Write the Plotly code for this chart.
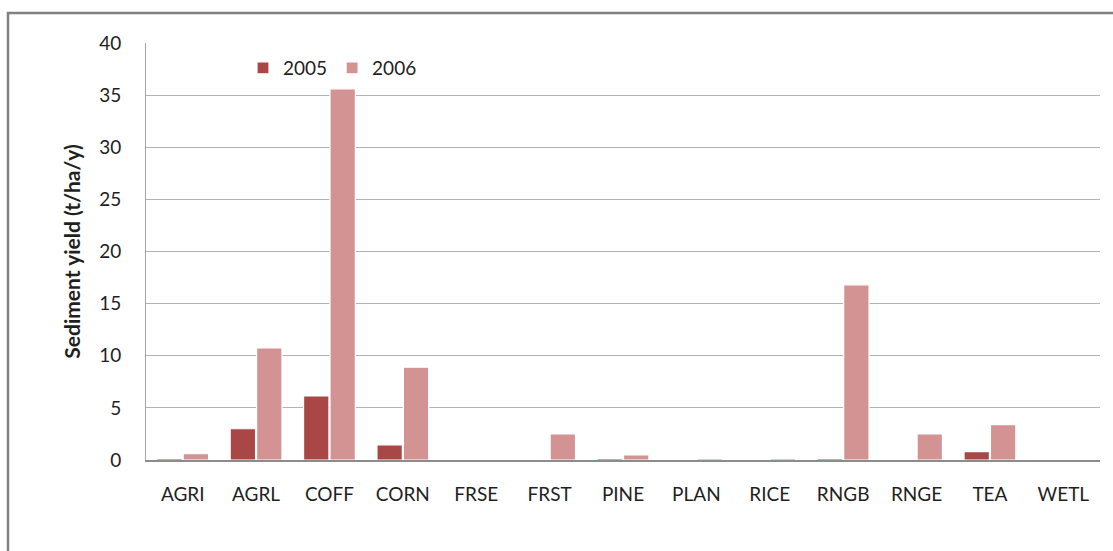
import plotly.graph_objects as go

categories = ["AGRI", "AGRL", "COFF", "CORN", "FRSE", "FRST", "PINE",
              "PLAN", "RICE", "RNGB", "RNGE", "TEA", "WETL"]
yield_2005 = [0.15, 3.0, 6.15, 1.45, 0.0, 0.0, 0.15, 0.0, 0.0, 0.15, 0.0, 0.8, 0.0]
yield_2006 = [0.6, 10.75, 35.6, 8.9, 0.0, 2.5, 0.5, 0.15, 0.15, 16.8, 2.5, 3.4, 0.0]

W, H = 1113, 551
L, R, T, B = 146, 13, 43, 91
pw, ph = W - L - R, H - T - B

def px_x(x):
    return (x - L) / pw

def px_y(y):
    return (H - B - y) / ph

fig = go.Figure()
fig.add_bar(x=categories, y=yield_2005, name="2005",
            marker=dict(color="#A94646", line=dict(color="white", width=1.2)))
fig.add_bar(x=categories, y=yield_2006, name="2006",
            marker=dict(color="#D39393", line=dict(color="white", width=1.2)))

# outer chart frame (top and left edges)
fig.add_shape(type="path", xref="paper", yref="paper",
              path=f"M {px_x(8)} {px_y(551)} L {px_x(8)} {px_y(13)} L {px_x(1113)} {px_y(13)}",
              line=dict(color="#808080", width=2.5))

fig.update_layout(
    width=W, height=H,
    margin=dict(l=L, r=R, t=T, b=B),
    paper_bgcolor="white", plot_bgcolor="white",
    barmode="group", bargap=0.28, bargroupgap=0.04,
    font=dict(family="Lato, 'Open Sans', sans-serif", color="#1F1F1F"),
    legend=dict(orientation="h", x=px_x(243), y=px_y(68), xanchor="left", yanchor="middle",
                font=dict(size=19), itemwidth=30, traceorder="normal",
                bgcolor="rgba(0,0,0,0)"),
    showlegend=True,
)
fig.update_yaxes(range=[0, 40], dtick=5, showgrid=True, gridcolor="#B3B3B3", gridwidth=1,
                 showline=True, linecolor="#A6A6A6", linewidth=1,
                 zeroline=False,
                 tickfont=dict(size=19), ticklabelstandoff=20,
                 title=dict(text="<b>Sediment yield (t/ha/y)</b>", font=dict(size=21), standoff=12))
fig.update_xaxes(showline=True, linecolor="#8C8C8C", linewidth=1.5, layer="above traces",
                 tickfont=dict(size=19), ticklabelstandoff=16)

fig.write_html("out.html")
